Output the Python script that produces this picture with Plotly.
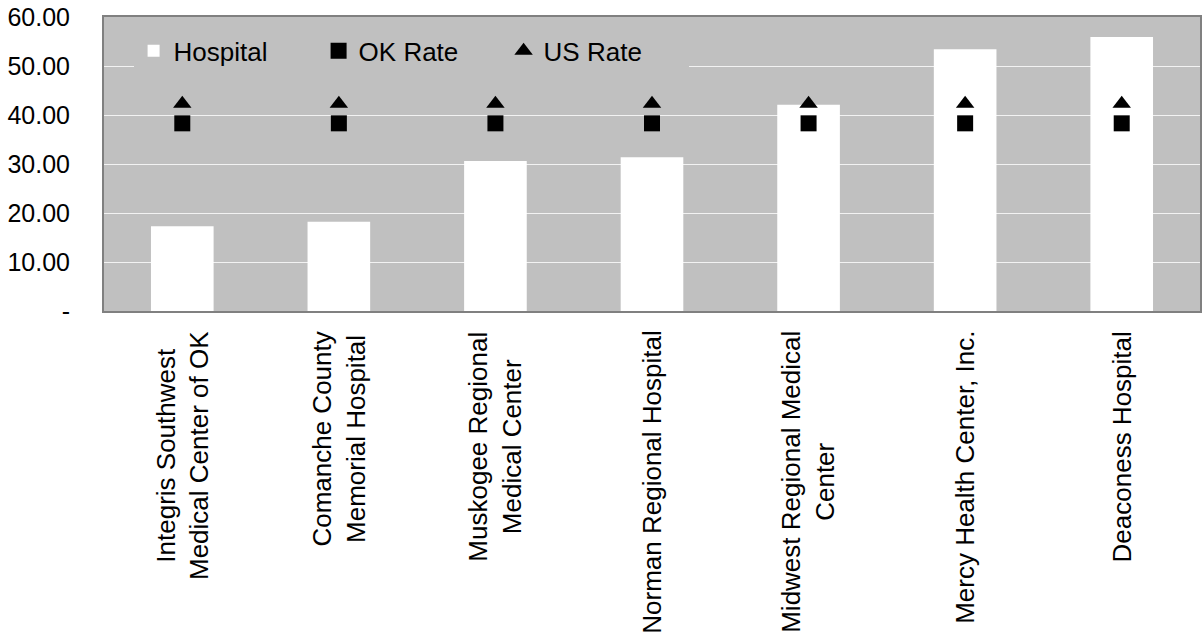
import plotly.graph_objects as go

categories = [
    "Integris Southwest<br>Medical Center of OK",
    "Comanche County<br>Memorial Hospital",
    "Muskogee Regional<br>Medical Center",
    "Norman Regional Hospital",
    "Midwest Regional Medical<br>Center",
    "Mercy Health Center, Inc.",
    "Deaconess Hospital",
]
hospital = [17.3, 18.2, 30.6, 31.4, 42.1, 53.4, 55.9]
ok_rate = [38.3] * 7
us_rate = [42.3] * 7

y_tickvals = [0, 10, 20, 30, 40, 50, 60]
y_ticktext = ["-", "10.00", "20.00", "30.00", "40.00", "50.00", "60.00"]

FONT = "Arial, 'Liberation Sans', sans-serif"

fig = go.Figure()
fig.add_trace(go.Bar(x=categories, y=hospital, name="Hospital",
                     marker=dict(color="white", line=dict(width=0))))
fig.add_trace(go.Scatter(x=categories, y=ok_rate, name="OK Rate", mode="markers",
                         marker=dict(symbol="square", size=16, color="black")))
fig.add_trace(go.Scatter(x=categories, y=us_rate, name="US Rate", mode="markers",
                         marker=dict(symbol="triangle-up", size=16, color="black")))

# category labels: rotated, lines centred on each other, hanging below the axis
for cat in categories:
    fig.add_annotation(
        x=cat, xref="x", y=-0.062, yref="paper",
        text=cat, textangle=-90, showarrow=False,
        xanchor="center", yanchor="top", align="center",
        font=dict(family=FONT, size=26, color="black"),
    )

fig.update_layout(
    width=1202, height=641,
    margin=dict(l=104, r=2, t=17, b=330, autoexpand=False),
    paper_bgcolor="white",
    plot_bgcolor="#C0C0C0",
    bargap=0.6,
    font=dict(family=FONT, size=26, color="black"),
    legend=dict(orientation="h", x=0.027, xanchor="left", y=0.885, yanchor="middle",
                bgcolor="#C0C0C0", font=dict(size=26), entrywidth=140,
                itemsizing="trace", itemwidth=30),
    showlegend=True,
)
fig.update_xaxes(
    showline=True, mirror=True, linecolor="#808080", linewidth=2,
    showgrid=False, ticks="", showticklabels=False, automargin=False,
)
fig.update_yaxes(
    range=[0, 60], tickvals=y_tickvals, ticktext=y_ticktext,
    showline=True, mirror=True, linecolor="#808080", linewidth=2,
    showgrid=True, gridcolor="#F2F2F2", gridwidth=1, zeroline=False, automargin=False,
    ticks="", ticklabelstandoff=27, tickfont=dict(family=FONT, size=25),
)

fig.write_html(
    "out.html",
    config={"displayModeBar": False},
    post_script="document.body.style.margin='0';document.body.style.overflow='hidden';",
)
